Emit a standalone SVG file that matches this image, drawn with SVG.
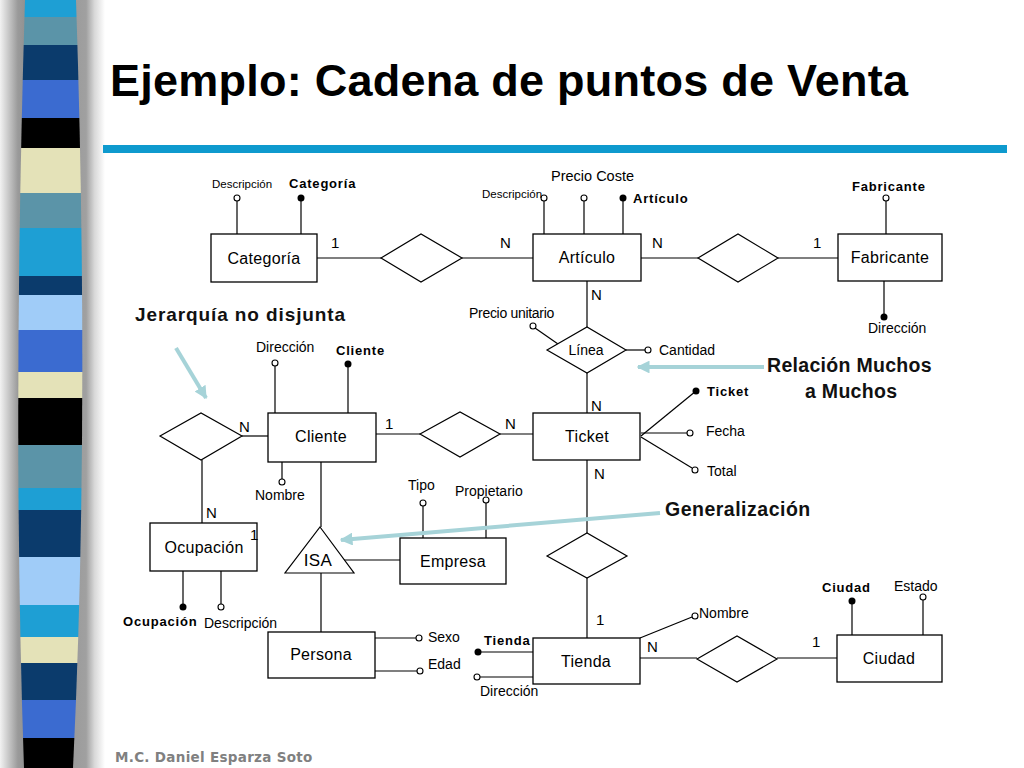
<svg xmlns="http://www.w3.org/2000/svg" width="1024" height="768" viewBox="0 0 1024 768">
<defs>
<style>
.ent{fill:#fff;stroke:#000;stroke-width:1.3}
.rel{fill:#fff;stroke:#000;stroke-width:1.2}
.ln{stroke:#000;stroke-width:1.2;fill:none}
.et{font-family:"Liberation Sans",Arial,sans-serif;font-size:16px;fill:#000;text-anchor:middle;letter-spacing:0.3px}
.at{font-family:"Liberation Sans",Arial,sans-serif;font-size:14px;fill:#000}
.ats{font-family:"Liberation Sans",Arial,sans-serif;font-size:11.5px;fill:#000}
.ab{font-family:"Liberation Sans",Arial,sans-serif;font-size:13px;font-weight:bold;fill:#000;letter-spacing:0.8px}
.card{font-family:"Liberation Sans",Arial,sans-serif;font-size:15px;fill:#000}
.oc{fill:#fff;stroke:#000;stroke-width:1.1}
.fc{fill:#000}
.note{font-family:"Liberation Sans",Arial,sans-serif;font-weight:bold;fill:#111}
.arw{stroke:#a6d3d8;stroke-width:4;fill:none}
</style>
<marker id="ah" viewBox="0 0 10 10" refX="9" refY="5" markerWidth="3.2" markerHeight="3.2" orient="auto" markerUnits="strokeWidth">
<path d="M0,0 L10,5 L0,10 Z" fill="#a6d3d8"/>
</marker>
<linearGradient id="gut" x1="0" y1="0" x2="1" y2="0">
<stop offset="0" stop-color="#f2f2f2"/>
<stop offset="0.17" stop-color="#9a9a9a"/>
<stop offset="0.3" stop-color="#8a8a8a"/>
<stop offset="0.82" stop-color="#a0a0a0"/>
<stop offset="0.9" stop-color="#d8d8d8"/>
<stop offset="1" stop-color="#ffffff"/>
</linearGradient>
<clipPath id="barclip">
<path d="M25,0 L76,0 Q90,420 73,768 L24,768 Q12,420 25,0 Z"/>
</clipPath>
</defs>
<rect width="1024" height="768" fill="#fff"/>
<!-- left decorative bar -->
<g id="sidebar">
<rect x="0" y="0" width="105" height="768" fill="url(#gut)"/>
<g clip-path="url(#barclip)">
<rect x="0" y="0" width="110" height="17" fill="#1e9fd4"/>
<rect x="0" y="17" width="110" height="28" fill="#5b94a8"/>
<rect x="0" y="45" width="110" height="35" fill="#0b3b6c"/>
<rect x="0" y="80" width="110" height="38" fill="#3b6bd0"/>
<rect x="0" y="118" width="110" height="30" fill="#000"/>
<rect x="0" y="148" width="110" height="45" fill="#e4e2b8"/>
<rect x="0" y="193" width="110" height="35" fill="#5b94a8"/>
<rect x="0" y="228" width="110" height="48" fill="#1e9fd4"/>
<rect x="0" y="276" width="110" height="19" fill="#0b3b6c"/>
<rect x="0" y="295" width="110" height="35" fill="#a0ccf8"/>
<rect x="0" y="330" width="110" height="42" fill="#3b6bd0"/>
<rect x="0" y="372" width="110" height="26" fill="#e4e2b8"/>
<rect x="0" y="398" width="110" height="47" fill="#000"/>
<rect x="0" y="445" width="110" height="43" fill="#5b94a8"/>
<rect x="0" y="488" width="110" height="22" fill="#1e9fd4"/>
<rect x="0" y="510" width="110" height="47" fill="#0b3b6c"/>
<rect x="0" y="557" width="110" height="48" fill="#a0ccf8"/>
<rect x="0" y="605" width="110" height="32" fill="#1e9fd4"/>
<rect x="0" y="637" width="110" height="26" fill="#e4e2b8"/>
<rect x="0" y="663" width="110" height="37" fill="#0b3b6c"/>
<rect x="0" y="700" width="110" height="38" fill="#3b6bd0"/>
<rect x="0" y="738" width="110" height="30" fill="#000"/>
</g>
</g>
<!-- title -->
<text x="110" y="96" font-family="'Liberation Sans',Arial,sans-serif" font-size="45" font-weight="bold" fill="#000" textLength="798" lengthAdjust="spacing">Ejemplo: Cadena de puntos de Venta</text>
<rect x="103" y="145" width="904" height="8" fill="#0e9ace"/>
<text x="115" y="762" font-family="'DejaVu Sans',Verdana,sans-serif" font-size="13.5" font-weight="bold" fill="#808080" style="letter-spacing:0.3px">M.C. Daniel Esparza Soto</text>

<!-- connectors -->
<g id="connectors">
<line class="ln" x1="317" y1="258" x2="381" y2="258"/>
<line class="ln" x1="462" y1="258" x2="533" y2="258"/>
<line class="ln" x1="641" y1="258" x2="698" y2="258"/>
<line class="ln" x1="778" y1="258" x2="838" y2="258"/>
<line class="ln" x1="587" y1="281" x2="587" y2="327"/>
<line class="ln" x1="587" y1="373" x2="587" y2="413"/>
<line class="ln" x1="376" y1="434" x2="420" y2="434"/>
<line class="ln" x1="500" y1="434" x2="533" y2="434"/>
<line class="ln" x1="242" y1="436" x2="268" y2="436"/>
<line class="ln" x1="202" y1="460" x2="202" y2="523"/>
<line class="ln" x1="587" y1="460" x2="587" y2="533"/>
<line class="ln" x1="587" y1="578" x2="587" y2="638"/>
<line class="ln" x1="640" y1="658" x2="697" y2="658"/>
<line class="ln" x1="777" y1="658" x2="837" y2="658"/>
<line class="ln" x1="321" y1="462" x2="321" y2="527"/>
<line class="ln" x1="341" y1="560" x2="400" y2="560"/>
<line class="ln" x1="321" y1="573" x2="321" y2="632"/>
</g>

<!-- entities -->
<g id="categoria">
<line class="ln" x1="237" y1="201" x2="237" y2="234"/>
<circle class="oc" cx="237" cy="198" r="3"/>
<text class="ats" x="212" y="188">Descripción</text>
<line class="ln" x1="301" y1="198" x2="301" y2="234"/>
<circle class="fc" cx="301" cy="198" r="3.5"/>
<text class="ab" x="289" y="188">Categoría</text>
<rect class="ent" x="211" y="234" width="106" height="48"/>
<text class="et" x="264" y="264">Categoría</text>
</g>

<g id="articulo">
<line class="ln" x1="544" y1="201" x2="544" y2="234"/>
<circle class="oc" cx="544" cy="198" r="3"/>
<text class="ats" x="482" y="198">Descripción</text>
<line class="ln" x1="584" y1="201" x2="584" y2="234"/>
<circle class="oc" cx="584" cy="198" r="3"/>
<text class="at" x="551" y="181" style="font-size:14.5px">Precio Coste</text>
<line class="ln" x1="623" y1="198" x2="623" y2="234"/>
<circle class="fc" cx="623" cy="198" r="3.5"/>
<text class="ab" x="633" y="203">Artículo</text>
<rect class="ent" x="533" y="234" width="108" height="47"/>
<text class="et" x="587" y="263">Artículo</text>
</g>

<g id="fabricante">
<line class="ln" x1="886" y1="201" x2="886" y2="234"/>
<circle class="oc" cx="886" cy="198" r="3"/>
<text class="ab" x="852" y="191">Fabricante</text>
<line class="ln" x1="884" y1="281" x2="884" y2="317"/>
<circle class="fc" cx="884" cy="317" r="3.5"/>
<text class="at" x="868" y="333">Dirección</text>
<rect class="ent" x="838" y="234" width="104" height="47"/>
<text class="et" x="890" y="263">Fabricante</text>
</g>

<g id="cliente">
<line class="ln" x1="275" y1="366" x2="275" y2="413"/>
<circle class="oc" cx="275" cy="363" r="3"/>
<text class="at" x="256" y="352">Dirección</text>
<line class="ln" x1="348" y1="364" x2="348" y2="413"/>
<circle class="fc" cx="348" cy="364" r="3.5"/>
<text class="ab" x="336" y="355">Cliente</text>
<line class="ln" x1="282" y1="462" x2="282" y2="479"/>
<circle class="oc" cx="282" cy="482" r="3"/>
<text class="at" x="255" y="500">Nombre</text>
<rect class="ent" x="268" y="413" width="108" height="49"/>
<text class="et" x="321" y="442">Cliente</text>
</g>

<g id="ticket">
<line class="ln" x1="641" y1="436" x2="696" y2="391"/>
<circle class="fc" cx="696" cy="391" r="3.5"/>
<text class="ab" x="707" y="396">Ticket</text>
<line class="ln" x1="641" y1="433" x2="687" y2="433"/>
<circle class="oc" cx="690" cy="433" r="3"/>
<text class="at" x="706" y="436">Fecha</text>
<line class="ln" x1="641" y1="437" x2="692" y2="468"/>
<circle class="oc" cx="695" cy="470" r="3"/>
<text class="at" x="707" y="476">Total</text>
<rect class="ent" x="533" y="413" width="107" height="47"/>
<text class="et" x="587" y="442">Ticket</text>
</g>

<g id="ocupacion">
<line class="ln" x1="183" y1="571" x2="183" y2="607"/>
<circle class="fc" cx="183" cy="607" r="3.5"/>
<text class="ab" x="123" y="626">Ocupación</text>
<line class="ln" x1="221" y1="571" x2="221" y2="604"/>
<circle class="oc" cx="221" cy="607" r="3"/>
<text class="at" x="204" y="628">Descripción</text>
<rect class="ent" x="150" y="523" width="107" height="48"/>
<text class="et" x="204" y="553">Ocupación</text>
</g>

<g id="isa">
<polygon class="rel" points="320,527 354,573 285,573"/>
<text class="et" x="318" y="566" style="font-size:17px">ISA</text>
</g>

<g id="empresa">
<line class="ln" x1="423" y1="506" x2="423" y2="538"/>
<circle class="oc" cx="423" cy="503" r="3"/>
<text class="at" x="408" y="490">Tipo</text>
<line class="ln" x1="486" y1="503" x2="486" y2="538"/>
<circle class="oc" cx="486" cy="500" r="3"/>
<text class="at" x="455" y="496">Propietario</text>
<rect class="ent" x="400" y="538" width="106" height="46"/>
<text class="et" x="453" y="567">Empresa</text>
</g>

<g id="persona">
<line class="ln" x1="375" y1="638" x2="416" y2="638"/>
<circle class="oc" cx="419" cy="638" r="3"/>
<text class="at" x="428" y="642">Sexo</text>
<line class="ln" x1="375" y1="671" x2="417" y2="671"/>
<circle class="oc" cx="420" cy="671" r="3"/>
<text class="at" x="428" y="669">Edad</text>
<rect class="ent" x="268" y="632" width="107" height="46"/>
<text class="et" x="321" y="660">Persona</text>
</g>

<g id="tienda">
<line class="ln" x1="478" y1="652" x2="533" y2="652"/>
<circle class="fc" cx="478" cy="652" r="3.5"/>
<text class="ab" x="484" y="645">Tienda</text>
<line class="ln" x1="480" y1="677" x2="533" y2="677"/>
<circle class="oc" cx="477" cy="677" r="3"/>
<text class="at" x="480" y="696">Dirección</text>
<line class="ln" x1="640" y1="638" x2="692" y2="617"/>
<circle class="oc" cx="695" cy="616" r="3"/>
<text class="at" x="699" y="618">Nombre</text>
<rect class="ent" x="533" y="638" width="107" height="46"/>
<text class="et" x="586" y="667">Tienda</text>
</g>

<g id="ciudad">
<line class="ln" x1="852" y1="601" x2="852" y2="635"/>
<circle class="fc" cx="852" cy="601" r="3.5"/>
<text class="ab" x="822" y="592">Ciudad</text>
<line class="ln" x1="923" y1="600" x2="923" y2="635"/>
<circle class="oc" cx="923" cy="597" r="3"/>
<text class="at" x="894" y="591">Estado</text>
<rect class="ent" x="837" y="635" width="105" height="47"/>
<text class="et" x="889" y="664">Ciudad</text>
</g>

<!-- relationships -->
<g id="rel-categoria-articulo"><polygon class="rel" points="381,258 421,234 462,258 421,282"/></g>
<g id="rel-articulo-fabricante"><polygon class="rel" points="698,258 738,234 778,258 738,282"/></g>
<g id="rel-linea">
<line class="ln" x1="535" y1="328" x2="558" y2="344"/>
<circle class="oc" cx="533" cy="326" r="3"/>
<text class="at" x="469" y="318" style="letter-spacing:-0.3px">Precio unitario</text>
<line class="ln" x1="626" y1="350" x2="645" y2="350"/>
<circle class="oc" cx="648" cy="350" r="3"/>
<text class="at" x="659" y="355">Cantidad</text>
<polygon class="rel" points="547,350 587,327 626,350 587,373"/>
<text class="at" x="586" y="355" text-anchor="middle">Línea</text>
</g>
<g id="rel-cliente-ticket"><polygon class="rel" points="420,434 460,412 500,434 460,457"/></g>
<g id="rel-cliente-ocupacion"><polygon class="rel" points="160,436 201,413 242,436 201,460"/></g>
<g id="rel-ticket-tienda"><polygon class="rel" points="547,556 587,533 627,556 587,578"/></g>
<g id="rel-tienda-ciudad"><polygon class="rel" points="697,659 737,636 777,659 737,682"/></g>

<!-- cardinalities -->
<g id="cardinalities">
<text class="card" x="331" y="248">1</text>
<text class="card" x="500" y="248">N</text>
<text class="card" x="652" y="248">N</text>
<text class="card" x="813" y="248">1</text>
<text class="card" x="591" y="300">N</text>
<text class="card" x="591" y="411">N</text>
<text class="card" x="385" y="429">1</text>
<text class="card" x="505" y="429">N</text>
<text class="card" x="239" y="432">N</text>
<text class="card" x="594" y="479">N</text>
<text class="card" x="206" y="518">N</text>
<text class="card" x="250" y="540">1</text>
<text class="card" x="596" y="625">1</text>
<text class="card" x="647" y="652">N</text>
<text class="card" x="812" y="647">1</text>
</g>

<!-- annotations -->
<g id="annotations">
<text class="note" x="135" y="321" font-size="19" style="letter-spacing:0.9px">Jerarquía no disjunta</text>
<line class="arw" x1="176" y1="348" x2="206" y2="398" marker-end="url(#ah)"/>
<text class="note" x="767" y="372" font-size="19.5" style="letter-spacing:0.3px">Relación Muchos</text>
<text class="note" x="805" y="398" font-size="19.5" style="letter-spacing:0.3px">a Muchos</text>
<line class="arw" x1="764" y1="367" x2="638" y2="367" marker-end="url(#ah)"/>
<text class="note" x="665" y="516" font-size="19.5" style="letter-spacing:0.5px">Generalización</text>
<line class="arw" x1="660" y1="513" x2="341" y2="540" marker-end="url(#ah)"/>
</g>
</svg>
